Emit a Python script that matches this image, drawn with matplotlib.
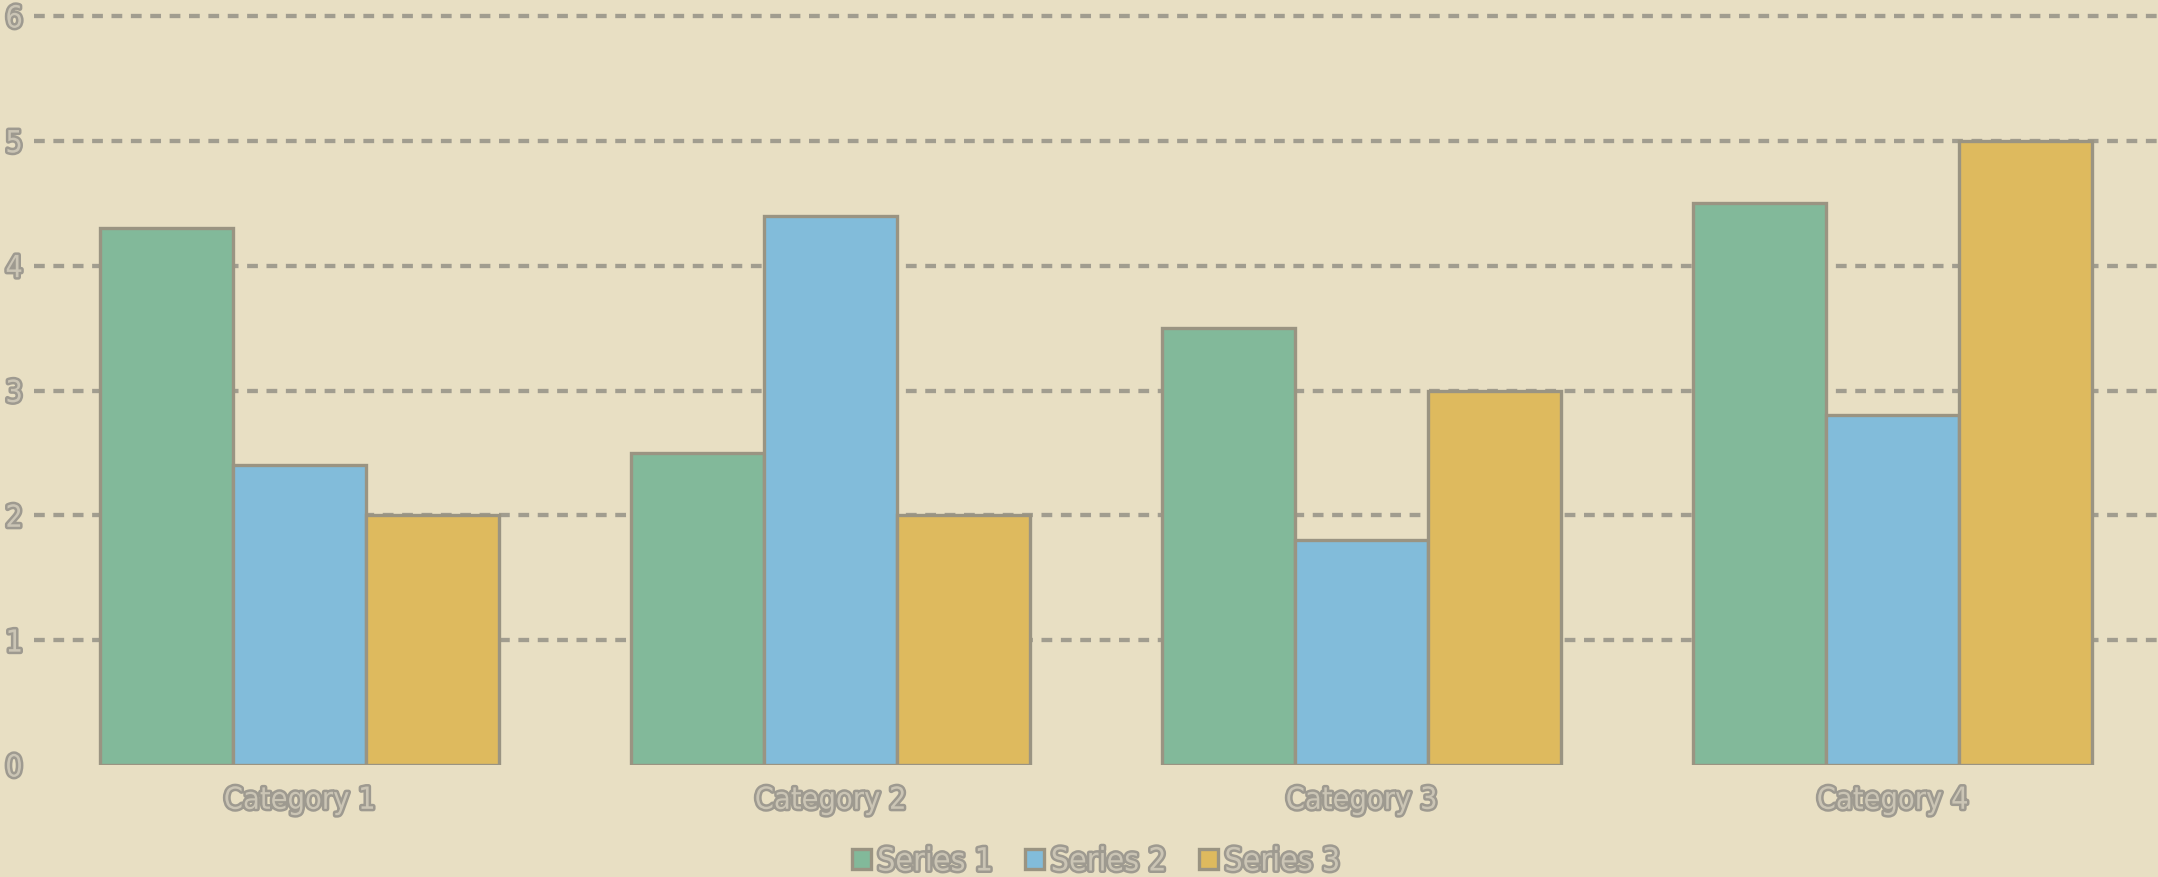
import matplotlib
matplotlib.use("Agg")
import matplotlib.pyplot as plt
import matplotlib.patheffects as pe
from matplotlib import font_manager as fm
import numpy as np

categories = ["Category 1", "Category 2", "Category 3", "Category 4"]
series_names = ["Series 1", "Series 2", "Series 3"]
series1 = [4.3, 2.5, 3.5, 4.5]
series2 = [2.4, 4.4, 1.8, 2.8]
series3 = [2.0, 2.0, 3.0, 5.0]
yticks = [0, 1, 2, 3, 4, 5, 6]

colors = ["#82b99a", "#82bcda", "#deba5e"]
bg = "#e8dfc3"
edge = "#9a9482"
grid_c = "#a19d8f"
txt_fill = "#cbc5b5"
txt_edge = "#9e9a90"

names = {f.name for f in fm.fontManager.ttflist}
fam = "DejaVu Sans"
stretch = "normal"
for cand in ["Liberation Sans Narrow", "DejaVu Sans Condensed"]:
    if cand in names:
        fam = cand
        break
else:
    stretch = "condensed"

plt.rcParams['font.family'] = [fam, 'DejaVu Sans']

W, H = 2158, 878
fig = plt.figure(figsize=(W / 100, H / 100), dpi=100)
fig.patch.set_facecolor(bg)
ax = fig.add_axes([34 / W, (H - 766) / H, 1 - 34 / W, (766 - 17) / H])
ax.set_facecolor(bg)

x = np.arange(len(categories))
bw = 0.25
data = [series1, series2, series3]
for i, (vals, name, c) in enumerate(zip(data, series_names, colors)):
    ax.bar(x + (i - 1) * bw, vals, width=bw, color=c, edgecolor=edge,
           linewidth=2.4, label=name, zorder=3)

ax.set_xlim(-0.5, len(categories) - 0.5)
ax.set_ylim(0, 6)
ax.set_yticks(yticks)
ax.set_xticks(x)
ax.set_xticklabels(categories)
for s in ax.spines.values():
    s.set_visible(False)
ax.tick_params(length=0)
ax.tick_params(axis='x', pad=15)
ax.tick_params(axis='y', pad=8)

ax.yaxis.grid(True, color=grid_c, linewidth=3.1, linestyle=(0, (2.5, 2.0)))
ax.set_axisbelow(True)
gl = ax.yaxis.get_gridlines()
gl[0].set_visible(False)
for g in gl:
    g.set_clip_on(False)

effects = [pe.Stroke(linewidth=3.6, foreground=txt_edge), pe.Normal()]
for lab in ax.get_xticklabels():
    lab.set_fontsize(22)
    lab.set_color(txt_fill)
    lab.set_fontstretch(stretch)
    lab.set_path_effects(effects)
for lab in ax.get_yticklabels():
    lab.set_fontsize(22)
    lab.set_color(txt_fill)
    lab.set_fontstretch(stretch)
    lab.set_path_effects(effects)

leg = ax.legend(loc='center', bbox_to_anchor=((34 + W) / 2 / W, 15 / H),
                bbox_transform=fig.transFigure, ncol=3, frameon=False,
                handlelength=0.6, handleheight=0.6, handletextpad=0.2,
                columnspacing=1.0, fontsize=23)
for t in leg.get_texts():
    t.set_color(txt_fill)
    t.set_fontstretch(stretch)
    t.set_path_effects(effects)

fig.savefig("out.png", dpi=100, facecolor=bg)
